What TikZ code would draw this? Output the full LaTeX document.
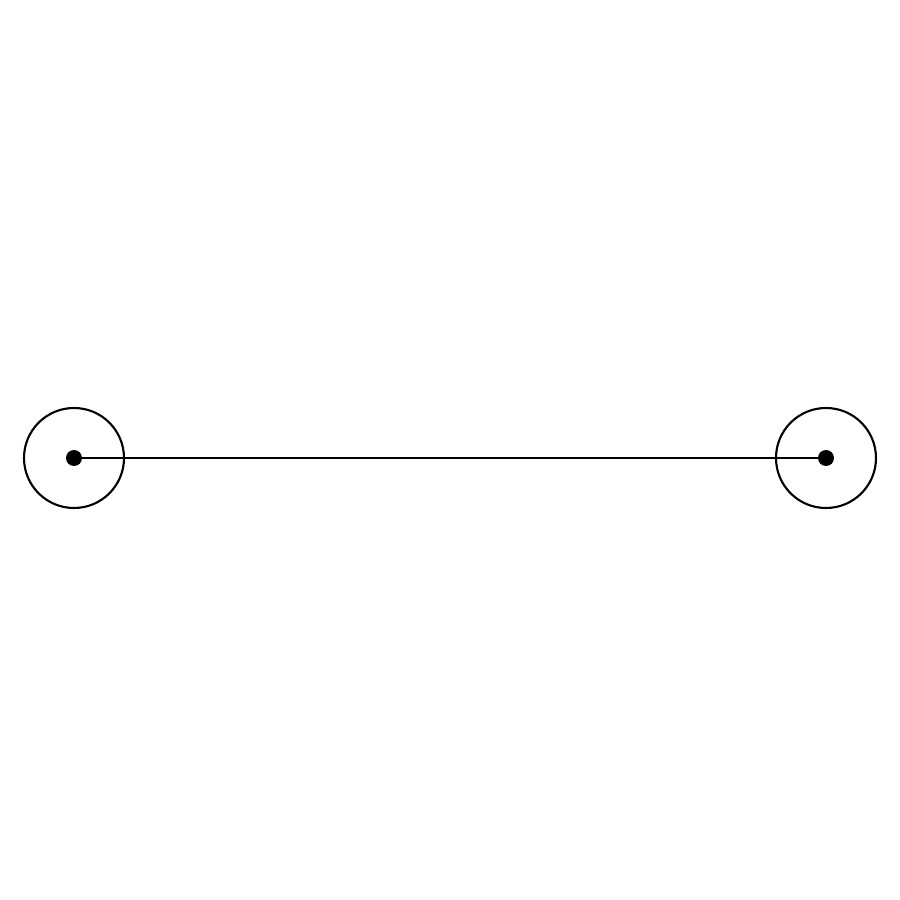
\documentclass[tikz,border=0pt]{standalone}
\usepackage{tikz}
\usetikzlibrary{arrows}
\begin{document}
\begin{tikzpicture}[line width=.6pt]
\useasboundingbox (0,0) rectangle (9,9);
\tikzstyle{every node}=[minimum width=0pt, inner sep=0pt, circle]
\draw (0.74,4.42) node (u1) [minimum size=1cm,draw] {};
\draw (8.26,4.42) node (u2) [minimum size=1cm,draw] {};
\draw (u1.center) node (v1) [minimum size=.16cm,fill] {};
\draw (u2.center) node (v2) [minimum size=.16cm,fill] {};
\draw (v1.center) -- (v2.center);
\end{tikzpicture}
\end{document}
